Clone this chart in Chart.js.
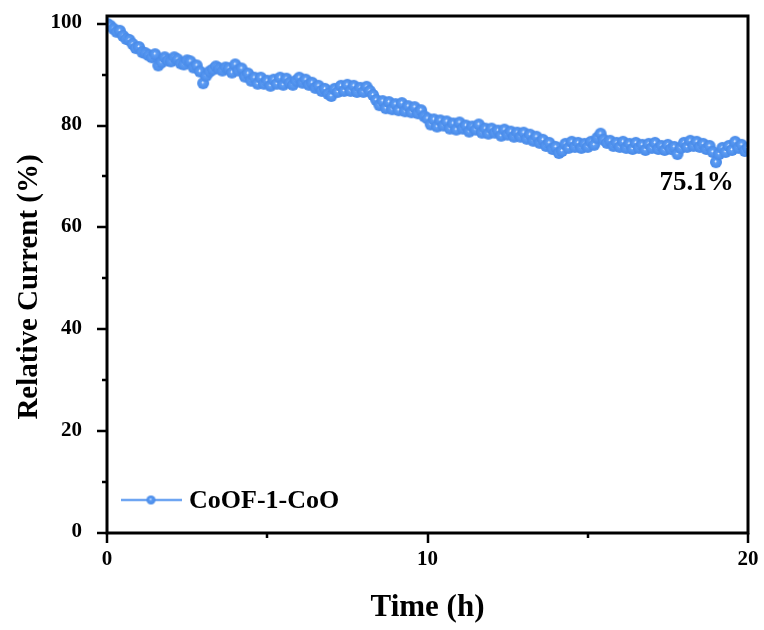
<!DOCTYPE html>
<html lang="en">
<head>
    <meta charset="UTF-8">
    <title>Relative Current</title>
    <script src="https://cdn.jsdelivr.net/npm/chart.js"></script>
    <style>
        html, body { margin: 0; padding: 0; background: #fff; }
        #wrap { width: 764px; height: 630px; }
    </style>
</head>
<body>
    <div id="wrap"><canvas id="stability" width="764" height="630"></canvas></div>
    <script>
        // data
        const seriesName = 'CoOF-1-CoO';
        const times = [
            0.0, 0.1, 0.2, 0.3, 0.4, 0.5, 0.6, 0.7, 0.8, 0.9,
            1.0, 1.1, 1.2, 1.3, 1.4, 1.5, 1.6, 1.7, 1.8, 1.9,
            2.0, 2.1, 2.2, 2.3, 2.4, 2.5, 2.6, 2.7, 2.8, 2.9,
            3.0, 3.1, 3.2, 3.3, 3.4, 3.5, 3.6, 3.7, 3.8, 3.9,
            4.0, 4.1, 4.2, 4.3, 4.4, 4.5, 4.6, 4.7, 4.8, 4.9,
            5.0, 5.1, 5.2, 5.3, 5.4, 5.5, 5.6, 5.7, 5.8, 5.9,
            6.0, 6.1, 6.2, 6.3, 6.4, 6.5, 6.6, 6.7, 6.8, 6.9,
            7.0, 7.1, 7.2, 7.3, 7.4, 7.5, 7.6, 7.7, 7.8, 7.9,
            8.0, 8.1, 8.2, 8.3, 8.4, 8.5, 8.6, 8.7, 8.8, 8.9,
            9.0, 9.1, 9.2, 9.3, 9.4, 9.5, 9.6, 9.7, 9.8, 9.9,
            10.0, 10.1, 10.2, 10.3, 10.4, 10.5, 10.6, 10.7, 10.8, 10.9,
            11.0, 11.1, 11.2, 11.3, 11.4, 11.5, 11.6, 11.7, 11.8, 11.9,
            12.0, 12.1, 12.2, 12.3, 12.4, 12.5, 12.6, 12.7, 12.8, 12.9,
            13.0, 13.1, 13.2, 13.3, 13.4, 13.5, 13.6, 13.7, 13.8, 13.9,
            14.0, 14.1, 14.2, 14.3, 14.4, 14.5, 14.6, 14.7, 14.8, 14.9,
            15.0, 15.1, 15.2, 15.3, 15.4, 15.5, 15.6, 15.7, 15.8, 15.9,
            16.0, 16.1, 16.2, 16.3, 16.4, 16.5, 16.6, 16.7, 16.8, 16.9,
            17.0, 17.1, 17.2, 17.3, 17.4, 17.5, 17.6, 17.7, 17.8, 17.9,
            18.0, 18.1, 18.2, 18.3, 18.4, 18.5, 18.6, 18.7, 18.8, 18.9,
            19.0, 19.1, 19.2, 19.3, 19.4, 19.5, 19.6, 19.7, 19.8, 19.9,
            20.0
        ];
        const current = [
            100.0, 99.6, 99.0, 98.4, 98.6, 97.6, 97.0, 96.8, 96.0, 95.2,
            95.4, 94.4, 94.2, 93.8, 93.4, 94.0, 91.8, 92.4, 93.4, 92.8,
            92.6, 93.4, 93.0, 92.2, 92.0, 92.8, 92.6, 91.4, 91.8, 90.6,
            88.3, 89.8, 90.6, 91.0, 91.6, 91.2, 90.8, 91.4, 91.2, 90.4,
            92.0, 90.8, 91.2, 89.6, 90.2, 88.8, 89.4, 88.2, 89.4, 88.2,
            88.8, 87.8, 89.0, 88.2, 89.4, 88.0, 89.2, 88.4, 88.0, 88.8,
            89.4, 88.4, 89.0, 88.0, 88.4, 87.4, 87.8, 86.8, 87.2, 86.2,
            85.8, 87.2, 86.6, 87.8, 86.8, 88.0, 86.8, 87.8, 86.6, 87.4,
            86.6, 87.6, 86.8, 86.0, 85.0, 84.0, 84.8, 83.4, 84.6, 83.2,
            84.2, 83.0, 84.4, 82.8, 83.8, 82.6, 83.6, 82.4, 83.0, 81.8,
            81.4, 80.2, 81.2, 79.8, 81.0, 80.0, 80.8, 79.4, 80.4, 79.2,
            80.6, 79.4, 80.0, 78.8, 79.8, 79.2, 80.2, 78.6, 79.4, 78.4,
            79.4, 78.6, 79.0, 78.0, 79.2, 78.2, 78.8, 77.8, 78.6, 77.8,
            78.6, 77.4, 78.2, 77.0, 77.8, 76.6, 77.2, 76.0, 76.6, 75.4,
            75.8, 74.6, 75.0, 76.4, 75.6, 76.8, 75.8, 76.6, 75.6, 76.4,
            75.8, 76.8, 76.2, 77.6, 78.4, 77.2, 76.6, 77.0, 76.0, 76.6,
            75.8, 76.8, 75.6, 76.4, 75.4, 76.6, 75.6, 76.2, 75.2, 76.4,
            75.6, 76.6, 75.4, 76.0, 75.2, 76.2, 75.4, 75.8, 74.4, 75.6,
            76.6, 75.8, 77.0, 76.0, 76.8, 75.8, 76.4, 75.4, 76.0, 74.8,
            72.8, 74.4, 75.6, 74.8, 76.0, 75.2, 76.8, 75.6, 76.2, 75.0,
            75.6
        ];
        const xTicks = [0, 10, 20];
        const yTicks = [0, 20, 40, 60, 80, 100];
        const retentionLabel = '75.1%';

        const serif = "'Liberation Serif', 'DejaVu Serif', serif";
        const blue = 'rgb(84,150,240)';

        // sphere-like marker: solid blue with a small highlight
        function makeMarker(r) {
            const c = document.createElement('canvas');
            const s = Math.ceil(r * 2 + 2);
            c.width = s; c.height = s;
            const g = c.getContext('2d');
            const grad = g.createRadialGradient(s / 2 - 0.5, s / 2 - 0.8, 0, s / 2, s / 2, r);
            grad.addColorStop(0, '#ffffff');
            grad.addColorStop(0.08, 'rgb(230,240,255)');
            grad.addColorStop(0.24, 'rgb(92,156,244)');
            grad.addColorStop(1, 'rgb(72,138,232)');
            g.fillStyle = grad;
            g.beginPath();
            g.arc(s / 2, s / 2, r, 0, Math.PI * 2);
            g.fill();
            return c;
        }
        const marker = makeMarker(6);
        const legendMarker = makeMarker(4.5);

        const points = times.map((t, i) => ({ x: t, y: current[i] }));

        // frame, ticks, labels, legend and note
        const decor = {
            id: 'decor',
            afterDraw(chart) {
                const ctx = chart.ctx;
                const a = chart.chartArea;
                const xs = chart.scales.x, ys = chart.scales.y;
                ctx.save();
                ctx.strokeStyle = '#000';
                ctx.lineWidth = 3;
                ctx.strokeRect(a.left, a.top, a.right - a.left, a.bottom - a.top);

                ctx.lineWidth = 2.5;
                ctx.beginPath();
                for (let v = 0; v <= 100; v += 10) {
                    const y = Math.round(ys.getPixelForValue(v));
                    const len = v % 20 === 0 ? 10 : 5;
                    ctx.moveTo(a.left, y);
                    ctx.lineTo(a.left - len, y);
                }
                for (let v = 0; v <= 20; v += 5) {
                    const x = Math.round(xs.getPixelForValue(v));
                    const len = v % 10 === 0 ? 10 : 5;
                    ctx.moveTo(x, a.bottom);
                    ctx.lineTo(x, a.bottom + len);
                }
                ctx.stroke();

                ctx.fillStyle = '#000';
                ctx.font = 'bold 21px ' + serif;
                ctx.textBaseline = 'middle';
                ctx.textAlign = 'right';
                yTicks.forEach(v => ctx.fillText(String(v), 82, ys.getPixelForValue(v) - 1));
                ctx.textAlign = 'center';
                xTicks.forEach(v => ctx.fillText(String(v), xs.getPixelForValue(v), 560));

                ctx.font = 'bold 31px ' + serif;
                ctx.fillText('Time (h)', (a.left + a.right) / 2, 608);
                ctx.save();
                ctx.translate(30, 287);
                ctx.rotate(-Math.PI / 2);
                ctx.font = 'bold 29px ' + serif;
                ctx.fillText('Relative Current (%)', 0, 0);
                ctx.restore();

                // legend
                const ly = 500;
                ctx.strokeStyle = 'rgb(110,165,242)';
                ctx.lineWidth = 2.5;
                ctx.beginPath();
                ctx.moveTo(121, ly);
                ctx.lineTo(182, ly);
                ctx.stroke();
                ctx.drawImage(legendMarker, 151 - legendMarker.width / 2, ly - legendMarker.height / 2);
                ctx.font = 'bold 26px ' + serif;
                ctx.textAlign = 'left';
                ctx.fillText(seriesName, 189, ly + 1);

                // retention note
                ctx.font = 'bold 27px ' + serif;
                ctx.textAlign = 'center';
                ctx.fillText(retentionLabel, xs.getPixelForValue(18.4), ys.getPixelForValue(68.8));
                ctx.restore();
            }
        };

        new Chart(document.getElementById('stability'), {
            type: 'line',
            data: {
                datasets: [{
                    label: seriesName,
                    data: points,
                    borderColor: blue,
                    borderWidth: 2,
                    pointStyle: marker,
                    pointRadius: 6,
                    tension: 0
                }]
            },
            options: {
                responsive: false,
                animation: false,
                layout: { padding: { top: 16, right: 16, left: 0, bottom: 0 } },
                plugins: { legend: { display: false }, tooltip: { enabled: false } },
                scales: {
                    x: {
                        type: 'linear',
                        min: 0, max: 20,
                        afterFit(s) { s.height = 97; },
                        grid: { display: false },
                        border: { display: false },
                        ticks: { display: false }
                    },
                    y: {
                        min: 0, max: 101.5,
                        afterFit(s) { s.width = 107; },
                        grid: { display: false },
                        border: { display: false },
                        ticks: { display: false }
                    }
                }
            },
            plugins: [decor]
        });
    </script>
</body>
</html>
